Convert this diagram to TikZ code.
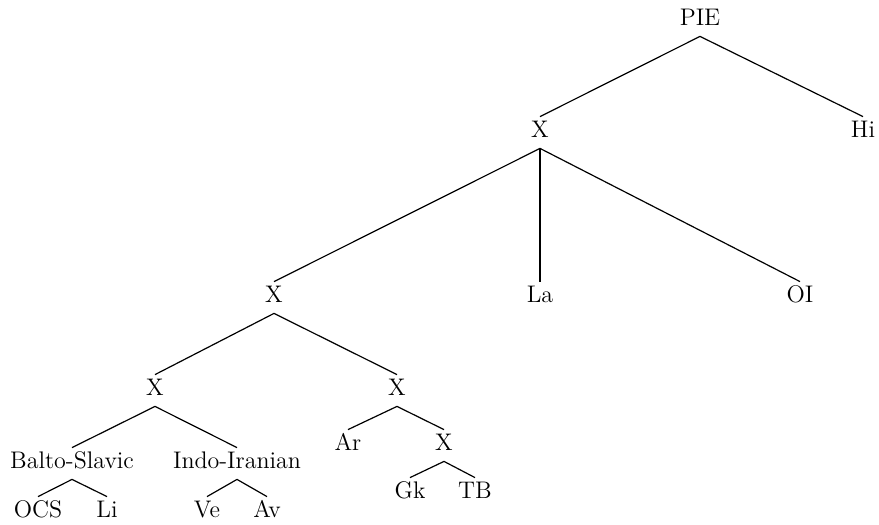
\documentclass[tikz,border=0pt]{standalone}
\usepackage{fontspec}
\setmainfont{Latin Modern Roman}
\usepackage{tikz}
\tikzstyle{lang} = [
    anchor=base,
    font=\fontsize{12}{14}\selectfont,
    inner xsep=1pt,
    inner ysep=1.5pt,
    text height=8.5pt,
    text depth=4pt
    ]
\tikzstyle{branch} = [line width=0.6pt]
\tikzstyle{heavybranch} = [line width=1.3pt]

\begin{document}
\begin{tikzpicture}[x=0.5pt, y=-0.5pt]
\useasboundingbox (0,0) rectangle (879,525);

% nodes, top to bottom
\node[lang] (pie) at (700,25) {PIE};
\node[lang] (xa) at (540,137) {X};
\node[lang] (hi) at (863,137) {Hi};
\node[lang] (xb) at (274,302) {X};
\node[lang] (la) at (540,302) {La};
\node[lang] (oi) at (800,302) {OI};
\node[lang] (xc) at (155,395) {X};
\node[lang] (xd) at (397,395) {X};
\node[lang] (bs) at (72,468) {Balto-Slavic};
\node[lang] (ii) at (237,468) {Indo-Iranian};
\node[lang] (ar) at (348,450) {Ar};
\node[lang] (xe) at (444,450) {X};
\node[lang] (gk) at (410,498) {Gk};
\node[lang] (tb) at (475,498) {TB};
\node[lang] (ocs) at (38,517) {OCS};
\node[lang] (li) at (107,517) {Li};
\node[lang] (ve) at (207,517) {Ve};
\node[lang] (av) at (267,517) {Av};

% branches
\draw[branch] (pie.south) -- (xa.north);
\draw[branch] (pie.south) -- (hi.north);
\draw[branch] (xa.south) -- (xb.north);
\draw[heavybranch] (xa.south) -- (la.north);
\draw[branch] (xa.south) -- (oi.north);
\draw[branch] (xb.south) -- (xc.north);
\draw[branch] (xb.south) -- (xd.north);
\draw[branch] (xc.south) -- (bs.north);
\draw[branch] (xc.south) -- (ii.north);
\draw[branch] (xd.south) -- (ar.north);
\draw[branch] (xd.south) -- (xe.north);
\draw[branch] (xe.south) -- (gk.north);
\draw[branch] (xe.south) -- (tb.north);
\draw[branch] (bs.south) -- (ocs.north);
\draw[branch] (bs.south) -- (li.north);
\draw[branch] (ii.south) -- (ve.north);
\draw[branch] (ii.south) -- (av.north);
\end{tikzpicture}
\end{document}
